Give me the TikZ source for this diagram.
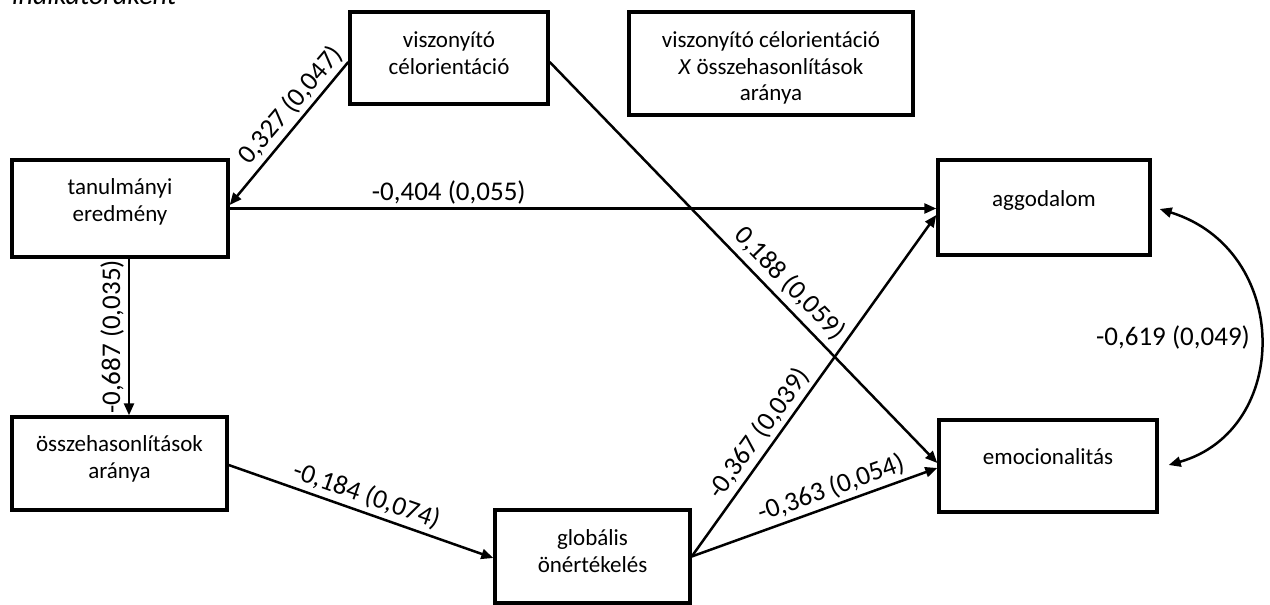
\documentclass[tikz,border=0pt]{standalone}
\usepackage{fontspec}
\setmainfont{Carlito}
\usetikzlibrary{arrows.meta}
\begin{document}
\begin{tikzpicture}[x=1pt,y=-1pt,
  box/.style={draw, line width=3.4pt, inner sep=0pt},
  btxt/.style={align=center, inner sep=0pt, font=\fontsize{23}{26.5}\selectfont},
  lbl/.style={inner sep=4pt, anchor=south, font=\fontsize{27}{30}\selectfont},
  conn/.style={line width=2.5pt, -{Triangle[length=12pt,width=10pt]}},
  dconn/.style={line width=2.5pt, {Triangle[length=12pt,width=10pt]}-{Triangle[length=12pt,width=10pt]}}]
\clip (0,0) rectangle (1270,605);
\fill[white] (0,0) rectangle (1270,605);
% caption fragment
\node[font=\fontsize{28}{30}\selectfont\itshape, anchor=base west, inner sep=0pt] (cap) at (12,5) {indikátoraként};
% boxes
\node[box, minimum width=198pt, minimum height=92pt] (vis) at (449,58) {};
\node[btxt] (visT) at (449,53) {viszonyító\\célorientáció};
\node[box, minimum width=284pt, minimum height=103pt] (vx) at (771,63.5) {};
\node[btxt] (vxT) at (771,68) {viszonyító célorientáció\\\textit{X} összehasonlítások\\aránya};
\node[box, minimum width=216pt, minimum height=97pt] (tan) at (120,208.5) {};
\node[btxt] (tanT) at (120,202) {tanulmányi\\eredmény};
\node[box, minimum width=212pt, minimum height=95pt] (agg) at (1044,207.5) {};
\node[btxt] (aggT) at (1044,200) {aggodalom};
\node[box, minimum width=215pt, minimum height=93pt] (oss) at (119.5,463.5) {};
\node[btxt] (ossT) at (119.5,459) {összehasonlítások\\aránya};
\node[box, minimum width=195pt, minimum height=93pt] (glo) at (592.5,556.5) {};
\node[btxt] (gloT) at (592.5,551) {globális\\önértékelés};
\node[box, minimum width=218pt, minimum height=92pt] (emo) at (1048,466) {};
\node[btxt] (emoT) at (1048,457) {emocionalitás};
% connectors
\draw[conn] ([yshift=-4pt]vis.west) -- node[lbl, rotate=49.5, pos=0.38] (l1) {0,327 (0,047)} ([yshift=3.5pt]tan.east);
\draw[conn] (tan.east) -- node[lbl, pos=0.31, inner sep=3pt] (l2) {-0,404 (0,055)} (tan.east -| agg.west);
\draw[conn] ([xshift=9pt]tan.south) -- node[lbl, rotate=90, midway] (l3) {-0,687 (0,035)} ([xshift=9pt]tan.south |- oss.north);
\draw[conn] ([yshift=-1.5pt]oss.east) -- node[lbl, rotate=-19.3, pos=0.5] (l4) {-0,184 (0,074)} ([yshift=-1.5pt]glo.west);
\draw[conn] ([yshift=-4pt]vis.east) -- node[lbl, rotate=-45.7, pos=0.585, inner sep=6pt] (l5) {0,188 (0,059)} ([yshift=3pt]emo.west);
\draw[conn] (glo.east) -- node[lbl, rotate=54.05, pos=0.33] (l6) {-0,367 (0,039)} ([yshift=-7.5pt]agg.west);
\draw[conn] (glo.east) -- node[lbl, rotate=19.7, pos=0.59] (l7) {-0,363 (0,054)} ([yshift=-2pt]emo.west);
\draw[dconn] ([xshift=8pt,yshift=-1.5pt]agg.east) .. controls +(132,41) and +(123,-35) .. ([xshift=10pt,yshift=1pt]emo.east);
\node[font=\fontsize{27}{30}\selectfont, inner sep=1pt] (corr) at (1173,337) {-0,619 (0,049)};
\end{tikzpicture}
\end{document}
